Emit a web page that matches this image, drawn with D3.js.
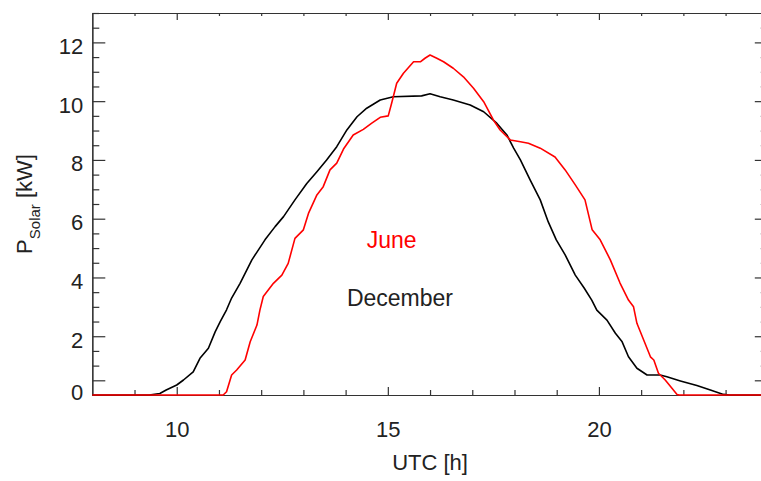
<!DOCTYPE html>
<html>
<head>
<meta charset="utf-8">
<script src="https://cdn.jsdelivr.net/npm/d3@7"></script>
<style>
  body { margin: 0; background: #fff; }
  svg { display: block; font-family: "Liberation Sans", Arial, Helvetica, sans-serif; }
</style>
</head>
<body>
<svg></svg>
<script>
// solar power, December (black) and June (red), hours in UTC
var decHours = [8, 9.35, 9.6, 9.75, 10.0, 10.16, 10.39, 10.55, 10.75, 10.91, 11.03, 11.18, 11.3, 11.5, 11.78,
    12.09, 12.33, 12.53, 12.8, 13.08, 13.32, 13.55, 13.79, 14.03, 14.27, 14.5, 14.82, 15.13, 15.8, 16.0,
    16.24, 16.55, 16.95, 17.27, 17.58, 17.82, 17.98, 18.14, 18.37, 18.61, 18.8, 18.99, 19.2, 19.44, 19.65,
    19.83, 19.95, 20.19, 20.39, 20.55, 20.7, 20.9, 21.14, 21.45, 21.61, 21.93, 22.32, 22.64, 22.95, 23.1, 24];
var decPower = [0, 0, 0.05, 0.17, 0.34, 0.51, 0.79, 1.25, 1.59, 2.15, 2.5, 2.9, 3.3, 3.8, 4.6,
    5.28, 5.73, 6.07, 6.64, 7.2, 7.6, 8.0, 8.45, 9.02, 9.47, 9.76, 10.04, 10.15, 10.18, 10.25,
    10.15, 10.04, 9.87, 9.64, 9.25, 8.85, 8.4, 8.0, 7.32, 6.64, 5.89, 5.28, 4.77, 4.08, 3.64,
    3.23, 2.89, 2.55, 2.1, 1.81, 1.3, 0.91, 0.68, 0.68, 0.62, 0.48, 0.32, 0.17, 0.02, 0, 0];

var junHours = [8, 11.1, 11.18, 11.3, 11.42, 11.62, 11.74, 11.9, 11.97, 12.05, 12.29, 12.49, 12.64, 12.8,
    13.0, 13.12, 13.32, 13.47, 13.63, 13.79, 13.95, 14.18, 14.42, 14.62, 14.82, 15.01, 15.09, 15.21, 15.37,
    15.61, 15.77, 15.88, 16.0, 16.16, 16.32, 16.55, 16.79, 17.03, 17.27, 17.5, 17.66, 17.9, 18.14, 18.33,
    18.61, 18.96, 19.2, 19.44, 19.67, 19.84, 20.03, 20.27, 20.5, 20.7, 20.82, 20.9, 21.06, 21.22, 21.3,
    21.41, 21.57, 21.73, 21.85, 21.9, 24];
var junPower = [0, 0, 0.11, 0.68, 0.85, 1.19, 1.81, 2.38, 2.89, 3.35, 3.8, 4.08, 4.48, 5.33,
    5.62, 6.18, 6.81, 7.09, 7.66, 7.89, 8.37, 8.85, 9.04, 9.25, 9.45, 9.5, 9.93, 10.61, 10.95,
    11.34, 11.34, 11.46, 11.57, 11.46, 11.34, 11.12, 10.83, 10.44, 9.98, 9.36, 9.02, 8.68, 8.62, 8.57,
    8.4, 8.1, 7.66, 7.15, 6.64, 5.62, 5.28, 4.6, 3.81, 3.23, 3.0, 2.44, 1.87, 1.3, 1.19,
    0.74, 0.51, 0.23, 0.02, 0, 0];

var xMajor = [10, 15, 20];
var yMajor = [0.5, 2, 4, 6, 8, 10, 12];   // the "0" label sits on the first tick, as in the original
var yTickNames = ["0", "2", "4", "6", "8", "10", "12"];

var svgWidth = 761, svgHeight = 481;
var plotL = 92.3, plotR = 767.8, plotT = 13, plotB = 395;

var svg = d3.select('svg')
    .attr('width', svgWidth)
    .attr('height', svgHeight);

var x = d3.scaleLinear().domain([8, 24]).range([plotL, plotR]);
var y = d3.scaleLinear().domain([0, 13]).range([plotB, plotT]);

var axisColor = '#333', textColor = '#222';

var xMinor = d3.range(9, 24).filter(function (d) { return xMajor.indexOf(d) < 0; });
var yMinor = d3.range(1, 13.01, 0.5).filter(function (d) { return yMajor.indexOf(d) < 0; });

function styleAxis(g) {
    g.attr('font-size', null).attr('font-family', null);
    g.select('.domain').attr('stroke', axisColor).attr('stroke-width', 1.2);
    g.selectAll('.tick line').attr('stroke', axisColor).attr('stroke-width', 1.2);
    g.selectAll('.tick text').attr('fill', textColor).style('font-size', '22px');
}

// bottom
svg.append('g').attr('transform', 'translate(0,' + plotB + ')')
    .call(d3.axisBottom(x).tickValues(xMinor).tickSize(-5).tickFormat('').tickSizeOuter(0))
    .call(styleAxis);
svg.append('g').attr('transform', 'translate(0,' + plotB + ')')
    .call(d3.axisBottom(x).tickValues(xMajor).tickSize(-8).tickPadding(26).tickSizeOuter(0))
    .call(styleAxis);
// top
svg.append('g').attr('transform', 'translate(0,' + plotT + ')')
    .call(d3.axisTop(x).tickValues(xMinor).tickSize(-3).tickFormat('').tickSizeOuter(0))
    .call(styleAxis);
svg.append('g').attr('transform', 'translate(0,' + plotT + ')')
    .call(d3.axisTop(x).tickValues(xMajor).tickSize(-7).tickFormat('').tickSizeOuter(0))
    .call(styleAxis);
// left
svg.append('g').attr('transform', 'translate(' + plotL + ',0)')
    .call(d3.axisLeft(y).tickValues(yMinor).tickSize(-7).tickFormat('').tickSizeOuter(0))
    .call(styleAxis);
var yAxisG = svg.append('g').attr('transform', 'translate(' + plotL + ',0)')
    .call(d3.axisLeft(y).tickValues(yMajor).tickSize(-13).tickPadding(9).tickSizeOuter(0)
        .tickFormat(function (d, i) { return yTickNames[i]; }))
    .call(styleAxis);
yAxisG.selectAll('.tick text').attr('dy', function (d) { return d < 1 ? '0.85em' : '0.5em'; });
// right (mostly outside the picture)
svg.append('g').attr('transform', 'translate(' + plotR + ',0)')
    .call(d3.axisRight(y).tickValues(yMinor).tickSize(-7).tickFormat('').tickSizeOuter(0))
    .call(styleAxis);
svg.append('g').attr('transform', 'translate(' + plotR + ',0)')
    .call(d3.axisRight(y).tickValues(yMajor).tickSize(-13).tickFormat('').tickSizeOuter(0))
    .call(styleAxis);

// curves
var line = d3.line()
    .x(function (d) { return x(d[0]); })
    .y(function (d) { return y(d[1]); });

svg.append('path')
    .datum(d3.zip(decHours, decPower))
    .attr('d', line)
    .attr('fill', 'none')
    .attr('stroke', '#000')
    .attr('stroke-width', 1.6)
    .attr('stroke-linejoin', 'round');

svg.append('path')
    .datum(d3.zip(junHours, junPower))
    .attr('d', line)
    .attr('fill', 'none')
    .attr('stroke', '#ff0000')
    .attr('stroke-width', 1.6)
    .attr('stroke-linejoin', 'round');

// labels inside the plot
svg.append('text')
    .attr('x', x(14.5)).attr('y', y(5.0))
    .attr('fill', '#ff0000')
    .style('font-size', '23px')
    .text('June');
svg.append('text')
    .attr('x', x(14.03)).attr('y', y(3.03))
    .attr('fill', textColor)
    .style('font-size', '23px')
    .text('December');

// axis titles
svg.append('text')
    .attr('x', (plotL + plotR) / 2).attr('y', 470)
    .attr('text-anchor', 'middle')
    .attr('fill', textColor)
    .style('font-size', '22px')
    .text('UTC [h]');

var yTitle = svg.append('text')
    .attr('transform', 'translate(31.7,' + ((plotT + plotB) / 2) + ') rotate(-90)')
    .attr('text-anchor', 'middle')
    .attr('fill', textColor)
    .style('font-size', '22px');
yTitle.append('tspan').text('P');
yTitle.append('tspan').attr('dy', 8).style('font-size', '15px').text('Solar');
yTitle.append('tspan').attr('dy', -8).text(' [kW]');
</script>
</body>
</html>
